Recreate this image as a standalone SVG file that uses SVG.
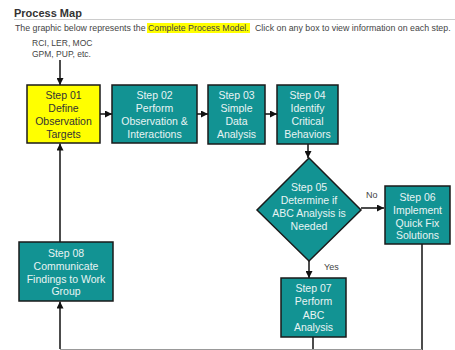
<svg xmlns="http://www.w3.org/2000/svg" width="455" height="350" viewBox="0 0 455 350">
<defs>
<marker id="ah" markerUnits="userSpaceOnUse" markerWidth="7" markerHeight="7" viewBox="0 0 7 7" refX="7" refY="3.5" orient="auto">
<path d="M0,0 L7,3.5 L0,7 Z" fill="#111"/>
</marker>
<style>
text{font-family:"Liberation Sans",Arial,sans-serif}
.bx{fill:#129393;stroke:#1a1a1a;stroke-width:1.5}
.by{fill:#ffff00;stroke:#1a1a1a;stroke-width:1.5}
.t{font-size:10.5px;fill:#e8f4f4;text-anchor:middle}
.ty{font-size:10.5px;fill:#333;text-anchor:middle}
.c{stroke:#111;stroke-width:1.5;fill:none}
.ca{stroke:#111;stroke-width:1.5;fill:none;marker-end:url(#ah)}
.lbl{font-size:9px;fill:#444}
.sub{font-size:8.8px;fill:#444}
</style>
</defs>
<rect width="455" height="350" fill="#fff"/>
<text x="14" y="17" font-size="11" font-weight="bold" fill="#333">Process Map</text>
<line x1="14" y1="19.5" x2="455" y2="19.5" stroke="#ccc" stroke-width="1"/>
<rect x="147" y="23" width="103" height="10" fill="#ffff00"/>
<text class="sub" x="15" y="31">The graphic below represents the</text>
<text class="sub" x="148" y="31">Complete Process Model.</text>
<text class="sub" x="255" y="31">Click on any box to view information on each step.</text>
<text x="32" y="46" font-size="8.5" fill="#444">RCI, LER, MOC</text>
<text x="32" y="57" font-size="8.5" fill="#444">GPM, PUP, etc.</text>

<g id="connectors">
<line class="ca" x1="60" y1="60" x2="60" y2="85"/>
<line class="ca" x1="100" y1="114" x2="112" y2="114"/>
<line class="ca" x1="197" y1="114" x2="208" y2="114"/>
<line class="ca" x1="265" y1="114" x2="277" y2="114"/>
<line class="ca" x1="308" y1="144" x2="308" y2="158"/>
<line class="ca" x1="361" y1="208" x2="384" y2="208"/>
<line class="ca" x1="309" y1="261" x2="309" y2="278"/>
<line class="ca" x1="60" y1="242" x2="60" y2="143.5"/>
<line class="ca" x1="60" y1="349" x2="60" y2="301.5"/>
<line class="c" x1="313" y1="337" x2="313" y2="350" stroke="#333"/>
<line class="c" x1="422" y1="244" x2="422" y2="350" stroke="#333"/>
<line x1="60" y1="349.5" x2="422" y2="349.5" stroke="#999" stroke-width="1"/>
<text class="lbl" x="366" y="198">No</text>
<text class="lbl" x="324" y="270">Yes</text>
</g>

<g id="step01">
<rect class="by" x="27" y="85" width="73" height="58"/>
<text class="ty" x="63.5" y="99">Step 01</text>
<text class="ty" x="63.5" y="112">Define</text>
<text class="ty" x="63.5" y="125">Observation</text>
<text class="ty" x="63.5" y="137.5">Targets</text>
</g>
<g id="step02">
<rect class="bx" x="112" y="85" width="85" height="58"/>
<text class="t" x="154.5" y="99">Step 02</text>
<text class="t" x="154.5" y="112">Perform</text>
<text class="t" x="154.5" y="125">Observation &amp;</text>
<text class="t" x="154.5" y="137.5">Interactions</text>
</g>
<g id="step03">
<rect class="bx" x="208" y="85" width="57" height="59"/>
<text class="t" x="236.5" y="99">Step 03</text>
<text class="t" x="236.5" y="112">Simple</text>
<text class="t" x="236.5" y="125">Data</text>
<text class="t" x="236.5" y="137.5">Analysis</text>
</g>
<g id="step04">
<rect class="bx" x="277" y="85" width="61" height="59"/>
<text class="t" x="307.5" y="99">Step 04</text>
<text class="t" x="307.5" y="112">Identify</text>
<text class="t" x="307.5" y="125">Critical</text>
<text class="t" x="307.5" y="137.5">Behaviors</text>
</g>
<g id="step05">
<polygon class="bx" points="309,158 361,210 309,261 257,210"/>
<text class="t" x="309" y="191">Step 05</text>
<text class="t" x="309" y="204">Determine if</text>
<text class="t" x="309" y="217">ABC Analysis is</text>
<text class="t" x="309" y="229.5">Needed</text>
</g>
<g id="step06">
<rect class="bx" x="385" y="186" width="65" height="58"/>
<text class="t" x="417.5" y="201">Step 06</text>
<text class="t" x="417.5" y="214">Implement</text>
<text class="t" x="417.5" y="227">Quick Fix</text>
<text class="t" x="417.5" y="239">Solutions</text>
</g>
<g id="step07">
<rect class="bx" x="281" y="278" width="65" height="59"/>
<text class="t" x="313.5" y="292">Step 07</text>
<text class="t" x="313.5" y="305">Perform</text>
<text class="t" x="313.5" y="318.5">ABC</text>
<text class="t" x="313.5" y="331">Analysis</text>
</g>
<g id="step08">
<rect class="bx" x="19" y="242" width="94" height="59"/>
<text class="t" x="66" y="257">Step 08</text>
<text class="t" x="66" y="270">Communicate</text>
<text class="t" x="66" y="282.5">Findings to Work</text>
<text class="t" x="66" y="295">Group</text>
</g>
</svg>
